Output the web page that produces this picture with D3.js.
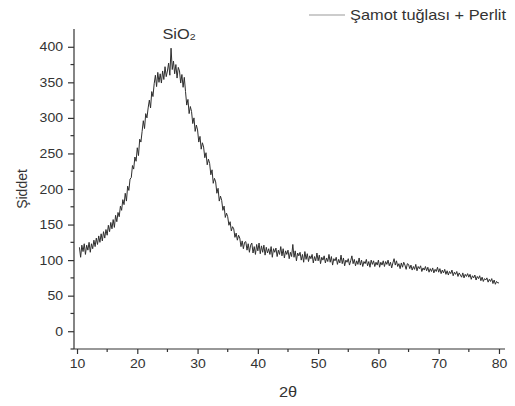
<!DOCTYPE html>
<html lang="tr">
<head>
    <meta charset="UTF-8">
    <title>XRD</title>
    <script src="https://cdn.jsdelivr.net/npm/d3@7/dist/d3.min.js"></script>
    <style>
        html, body { margin: 0; padding: 0; background: #fff; }
        text { font-family: "Liberation Sans", Arial, sans-serif; fill: #333; }
        .axis path, .axis line { stroke: #333; stroke-width: 1.2px; }
        .trace { fill: none; stroke: #2e2e2e; stroke-width: 1px; stroke-linejoin: round; }
    </style>
</head>
<body>
<script>
    // 2θ start and step of the scan
    const startAngle = 10.4;
    const angleStep = 0.2;

    // intensity, one row per degree
    const intensity = [
        118, 104, 121,
        112, 123, 108, 121, 114,
        125, 111, 123, 116, 128,
        119, 131, 122, 134, 125,
        137, 127, 140, 131, 143,
        135, 149, 140, 153, 144,
        157, 146, 163, 154, 167,
        161, 176, 170, 185, 178,
        194, 183, 204, 198, 214,
        216, 233, 228, 245, 239,
        258, 247, 270, 266, 281,
        296, 285, 306, 300, 314,
        325, 314, 337, 330, 348,
        360, 344, 364, 350, 362,
        349, 366, 354, 372, 358,
        366, 377, 360, 398, 368,
        380, 362, 375, 356, 371,
        366, 349, 361, 343, 357,
        337, 318, 326, 306, 316,
        309, 292, 300, 281, 290,
        283, 266, 274, 256, 265,
        259, 244, 251, 234, 242,
        236, 220, 227, 208, 215,
        210, 194, 201, 183, 190,
        184, 170, 176, 160, 166,
        161, 149, 154, 141, 147,
        144, 132, 138, 128, 135,
        131, 119, 127, 116, 125,
        126, 114, 123, 111, 121,
        124, 110, 119, 108, 122,
        113, 124, 109, 120, 111,
        121, 107, 118, 110, 116,
        108, 119, 104, 116, 111,
        117, 105, 114, 108, 119,
        106, 116, 103, 113, 108,
        114, 102, 111, 105, 122,
        104, 113, 99, 110, 106,
        111, 100, 108, 97, 112,
        101, 109, 98, 106, 102,
        108, 96, 105, 99, 110,
        99, 107, 95, 104, 100,
        106, 96, 103, 98, 108,
        97, 105, 93, 102, 99,
        104, 94, 101, 96, 107,
        95, 103, 92, 100, 97,
        102, 93, 99, 106, 95,
        101, 92, 99, 94, 103,
        93, 100, 91, 98, 95,
        101, 92, 98, 90, 100,
        94, 99, 91, 97, 93,
        100, 90, 97, 93, 99,
        91, 98, 94, 100, 92,
        97, 89, 96, 102, 93,
        99, 91, 95, 88, 96,
        90, 97, 93, 87, 95,
        94, 88, 93, 86, 91,
        87, 94, 85, 91, 88,
        92, 84, 89, 86, 91,
        85, 90, 83, 88, 84,
        89, 82, 87, 84, 90,
        83, 88, 81, 86, 82,
        87, 80, 85, 79, 84,
        81, 86, 78, 83, 80,
        84, 77, 82, 79, 76,
        82, 75, 80, 77, 81,
        76, 80, 73, 78, 75,
        79, 72, 77, 74, 78,
        71, 76, 70, 74, 72,
        75, 69, 73, 70, 74,
        67, 72, 66, 70, 68,
        68
    ];

    const xTicks = [10, 20, 30, 40, 50, 60, 70, 80];
    const xMinorTicks = [15, 25, 35, 45, 55, 65, 75];
    const yTicks = [0, 50, 100, 150, 200, 250, 300, 350, 400];
    const yMinorTicks = [-25, 25, 75, 125, 175, 225, 275, 325, 375];

    const seriesName = 'Şamot tuğlası + Perlit';
    const xTitle = '2θ';
    const yTitle = 'Şiddet';

    const width = 515, height = 406;
    const stretch = 1.17; // picture text is a bit wide

    const svg = d3.select('body').append('svg')
        .attr('width', width)
        .attr('height', height);

    const x = d3.scaleLinear().domain([9.5, 81]).range([74, 505]);
    const y = d3.scaleLinear().domain([-25, 425]).range([349, 29]);

    const points = intensity.map((v, i) => [startAngle + i * angleStep, v]);

    // axes
    const xAxis = svg.append('g').classed('axis', true)
        .attr('transform', `translate(0,${y(-25)})`)
        .call(d3.axisBottom(x).tickValues(xTicks).tickSize(5).tickSizeOuter(0).tickFormat(d3.format('d')));
    xAxis.select('.domain').attr('d', `M${x(9.5)},0H${x(81)}`);
    xAxis.selectAll('text')
        .attr('font-size', 12)
        .attr('y', 0).attr('dy', 0)
        .attr('transform', `translate(0,19) scale(${stretch},1)`);

    xAxis.selectAll('.minor').data(xMinorTicks).enter()
        .append('line').classed('minor', true)
        .attr('x1', d => x(d)).attr('x2', d => x(d))
        .attr('y1', 0).attr('y2', 3);

    const yAxis = svg.append('g').classed('axis', true)
        .attr('transform', `translate(${x(9.5)},0)`)
        .call(d3.axisLeft(y).tickValues(yTicks).tickSize(6).tickSizeOuter(0));
    yAxis.select('.domain').attr('d', `M0,${y(-25)}V${y(425)}`);
    yAxis.selectAll('text')
        .attr('font-size', 12)
        .attr('x', 0).attr('dy', '0.34em')
        .attr('transform', `translate(-11,0) scale(${stretch},1)`);

    yAxis.selectAll('.minor').data(yMinorTicks).enter()
        .append('line').classed('minor', true)
        .attr('y1', d => y(d)).attr('y2', d => y(d))
        .attr('x1', 0).attr('x2', -3.5);

    // trace
    svg.append('path')
        .datum(points)
        .classed('trace', true)
        .attr('d', d3.line().x(d => x(d[0])).y(d => y(d[1])));

    // peak label
    const peak = svg.append('text')
        .attr('transform', `translate(179,39) scale(${stretch},1)`)
        .attr('text-anchor', 'middle')
        .attr('font-size', 14);
    peak.append('tspan').text('SiO');
    peak.append('tspan').attr('font-size', 9).attr('dy', 1).text('2');

    // titles
    svg.append('text')
        .attr('transform', `translate(288,397) scale(${stretch},1)`)
        .attr('text-anchor', 'middle')
        .attr('font-size', 14)
        .text(xTitle);

    svg.append('text')
        .attr('transform', `translate(27,${y(200)}) rotate(-90)`)
        .attr('text-anchor', 'middle')
        .attr('font-size', 14)
        .text(yTitle);

    // legend
    svg.append('line')
        .attr('x1', 309).attr('x2', 345)
        .attr('y1', 15).attr('y2', 15)
        .attr('stroke', '#999').attr('stroke-width', 1);
    svg.append('text')
        .attr('transform', `translate(350,20) scale(${stretch},1)`)
        .attr('font-size', 14)
        .text(seriesName);
</script>
</body>
</html>
